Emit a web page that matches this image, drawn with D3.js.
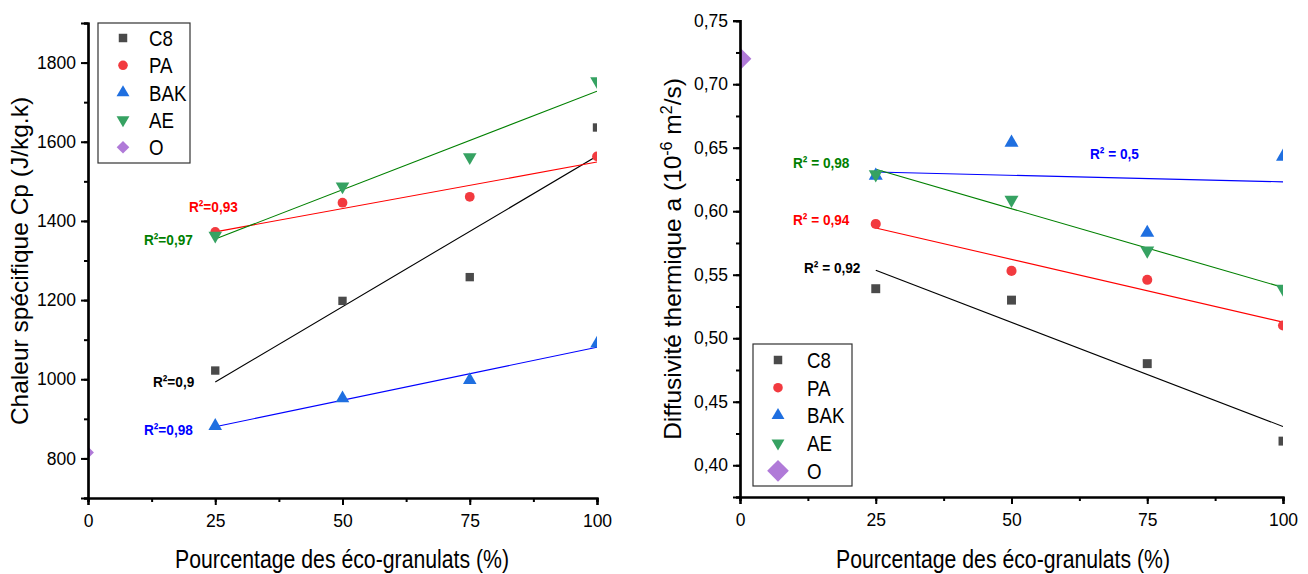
<!DOCTYPE html>
<html><head><meta charset="utf-8">
<script src="https://cdn.jsdelivr.net/npm/d3@7"></script>
<style>body{margin:0;background:#fff}svg{display:block;font-family:"Liberation Sans",Arial,sans-serif}</style>
</head><body><svg id="c" width="1308" height="574"></svg>
<script>
const pct = [25, 50, 75, 100];
const seriesNames = ["C8", "PA", "BAK", "AE", "O"];
const cpC8 = [1022, 1198, 1258, 1636];
const cpPA = [1372, 1446, 1461, 1563];
const cpBAK = [882, 952, 998, 1090];
const cpAE = [1363, 1487, 1561, 1753];
const cpO = [815];
const aC8 = [0.539, 0.530, 0.480, 0.419];
const aPA = [0.590, 0.553, 0.546, 0.510];
const aBAK = [0.628, 0.654, 0.583, 0.643];
const aAE = [0.629, 0.609, 0.569, 0.539];
const aO = [0.720];
const xTicks = [0, 25, 50, 75, 100];
const cpTicks = [800, 1000, 1200, 1400, 1600, 1800];
const aTicks = [0.40, 0.45, 0.50, 0.55, 0.60, 0.65, 0.70, 0.75];
const r2Cp = ["R²=0,9", "R²=0,93", "R²=0,98", "R²=0,97"];
const r2A = ["R² = 0,92", "R² = 0,94", "R² = 0,5", "R² = 0,98"];

const colors = {C8:"#4a4a4a", PA:"#f23a3f", BAK:"#1f6fe0", AE:"#36a262", O:"#b07ad8"};
const fitColors = {C8:"#000000", PA:"#ff0000", BAK:"#0000ff", AE:"#008000"};
const symbols = {C8:d3.symbolSquare, PA:d3.symbolCircle, BAK:d3.symbolTriangle, AE:d3.symbolTriangle, O:d3.symbolSquare};

const svg = d3.select("#c");

function fit(xs, ys){
  const mx = d3.mean(xs), my = d3.mean(ys);
  let sxy=0, sxx=0;
  xs.forEach((x,i)=>{sxy+=(x-mx)*(ys[i]-my); sxx+=(x-mx)*(x-mx);});
  const b = sxy/sxx, a = my - b*mx;
  return x => a + b*x;
}

function marker(g, name, x, y, size){
  const p = g.append("path")
    .attr("d", d3.symbol().type(symbols[name]).size(size)())
    .attr("fill", colors[name]);
  let t = `translate(${x},${y})`;
  if(name==="AE") t += " rotate(180)";
  if(name==="O") t += " rotate(45)";
  p.attr("transform", t);
  return p;
}

function stext(g, x, y, size, sx, str){
  return g.append("text").attr("transform", `translate(${x},${y}) scale(${sx},1)`)
    .attr("font-size", size).text(str);
}

function chart(cfg){
  const g = svg.append("g");
  const x = d3.scaleLinear().domain([0,100]).range([cfg.x0, cfg.x1]);
  const y = d3.scaleLinear().domain(cfg.yDom).range([cfg.y0, cfg.y1]);
  const cid = "clip"+cfg.id;
  svg.append("defs").append("clipPath").attr("id", cid).append("rect")
    .attr("x", cfg.x0).attr("y", cfg.y1).attr("width", cfg.x1-cfg.x0).attr("height", cfg.y0-cfg.y1);
  const plot = g.append("g").attr("clip-path", `url(#${cid})`);

  const data = cfg.data;
  ["C8","PA","BAK","AE"].forEach(n=>{
    const f = fit(pct, data[n]);
    plot.append("line").attr("x1", x(25)).attr("y1", y(f(25))).attr("x2", x(100)).attr("y2", y(f(100)))
      .attr("stroke", fitColors[n]).attr("stroke-width", 1.1);
  });
  ["C8","PA","BAK","AE"].forEach(n=>{
    data[n].forEach((v,i)=> marker(plot, n, x(pct[i]), y(v), cfg.ms[n]));
  });
  marker(plot, "O", x(0), y(data.O[0]), cfg.ms.O);

  const xMinor = d3.range(0, 100.01, 12.5);
  const yMinor = d3.range(cfg.yDom[0], cfg.yDom[1]+1e-9, cfg.minorStep);
  const xa = g.append("g").attr("transform", `translate(0,${cfg.y0})`)
    .call(d3.axisBottom(x).tickValues(xMinor).tickSize(4).tickFormat(""));
  const xa2 = g.append("g").attr("transform", `translate(0,${cfg.y0})`)
    .call(d3.axisBottom(x).tickValues(xTicks).tickSize(7).tickPadding(6).tickFormat(d3.format("d")));
  const ya = g.append("g").attr("transform", `translate(${cfg.x0},0)`)
    .call(d3.axisLeft(y).tickValues(yMinor).tickSize(4).tickFormat(""));
  const ya2 = g.append("g").attr("transform", `translate(${cfg.x0},0)`)
    .call(d3.axisLeft(y).tickValues(cfg.yTicks).tickSize(7).tickPadding(5).tickFormat(cfg.fmt));
  [xa,xa2,ya,ya2].forEach(a=>{
    a.select(".domain").attr("stroke","#000").attr("stroke-width",2.2);
    a.selectAll(".tick line").attr("stroke","#000").attr("stroke-width",2);
    a.selectAll("text").attr("font-size",17.5).attr("fill","#000").attr("font-family","Liberation Sans, Arial, sans-serif");
  });
  xa2.selectAll("text").attr("dy","0.9em");

  // axis titles
  stext(g, cfg.xtX, 568, 25, 0.85, "Pourcentage des éco-granulats (%)").attr("text-anchor","middle");
  const yt = g.append("text").attr("transform", `translate(${cfg.ytX},${cfg.ytY}) rotate(-90)`)
    .attr("text-anchor","middle").attr("font-size",24.5);
  cfg.yTitle(yt);

  // legend
  const L = cfg.leg;
  g.append("rect").attr("x",L.x).attr("y",L.y).attr("width",L.w).attr("height",L.h)
    .attr("fill","#fff").attr("stroke","#333").attr("stroke-width",1.2);
  seriesNames.forEach((n,i)=>{
    const yy = L.r0 + i*L.dy;
    marker(g, n, L.mx, yy, n==="O"? L.oSize : L.size[n]);
    stext(g, L.tx, yy + 8, 22, 0.85, n);
  });

  cfg.labels.forEach(l=>{
    stext(g, l.x, l.y, 15.5, 0.88, l.t).attr("font-weight","bold").attr("fill", fitColors[l.s]);
  });
}

chart({
  id:1, x0:88, x1:597, y0:498, y1:23, yDom:[700,1900], minorStep:100, yTicks:cpTicks, fmt:d3.format("d"),
  data:{C8:cpC8, PA:cpPA, BAK:cpBAK, AE:cpAE, O:cpO},
  ms:{C8:70, PA:75, BAK:80, AE:80, O:70},
  xtX:342, ytX:28, ytY:261,
  yTitle: t=>t.text("Chaleur spécifique Cp (J/kg.k)"),
  leg:{x:98, y:23, w:92, h:140, r0:38, dy:27.3, mx:123, tx:149, size:{C8:72,PA:72,BAK:72,AE:72}, oSize:80},
  labels:[
    {s:"PA", t:r2Cp[1], x:189, y:212},
    {s:"AE", t:r2Cp[3], x:144, y:245},
    {s:"C8", t:r2Cp[0], x:153, y:387},
    {s:"BAK", t:r2Cp[2], x:144, y:435}
  ]
});

chart({
  id:2, x0:740, x1:1283, y0:497, y1:20.7, yDom:[0.375,0.75], minorStep:0.025, yTicks:aTicks, fmt:d=>d3.format(".2f")(d).replace(".",","),
  data:{C8:aC8, PA:aPA, BAK:aBAK, AE:aAE, O:aO},
  ms:{C8:80, PA:80, BAK:85, AE:85, O:260},
  xtX:1003, ytX:681, ytY:259,
  yTitle: t=>{
    t.append("tspan").text("Diffusivité thermique a (10");
    t.append("tspan").attr("dy",-9).attr("font-size",16).text("-6");
    t.append("tspan").attr("dy",9).text(" m");
    t.append("tspan").attr("dy",-9).attr("font-size",16).text("2");
    t.append("tspan").attr("dy",9).text("/s)");
  },
  leg:{x:753, y:344, w:99, h:142, r0:360, dy:27.7, mx:778, tx:807, size:{C8:72,PA:72,BAK:72,AE:72}, oSize:235},
  labels:[
    {s:"AE", t:r2A[3], x:793, y:168},
    {s:"PA", t:r2A[1], x:793, y:225},
    {s:"C8", t:r2A[0], x:804, y:273},
    {s:"BAK", t:r2A[2], x:1090, y:159}
  ]
});
</script></body></html>
